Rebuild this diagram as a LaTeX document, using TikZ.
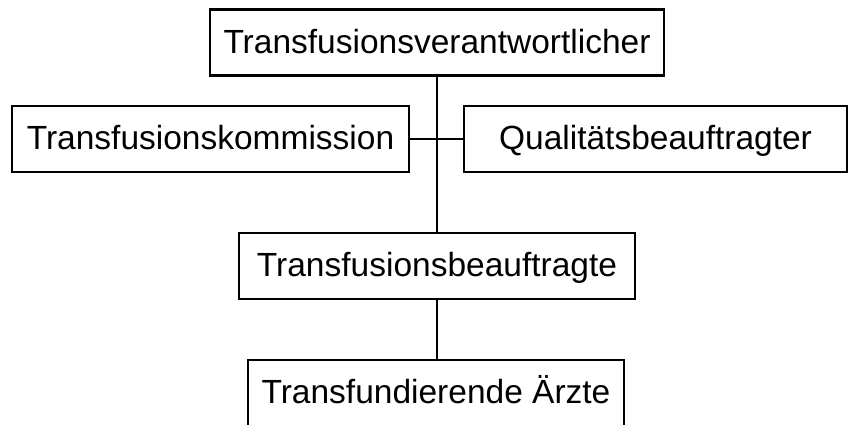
\documentclass[tikz,border=0pt]{standalone}
\usepackage{fontspec}
\setmainfont{Liberation Sans}
\tikzset{
  box/.style={draw, line width=2.2pt, inner sep=0pt, minimum height=66pt,
    text height=25pt, text depth=4pt,
    font=\fontsize{33.5pt}{40pt}\selectfont},
  link/.style={line width=2.2pt}
}
\begin{document}
\begin{tikzpicture}[x=1pt,y=-1pt]
	\useasboundingbox (0,0) rectangle (849,424);
	\node[box, minimum width=454pt] (verantw) at (437,42.5) {Transfusionsverantwortlicher};
	\node[box, minimum width=397pt] (kommission) at (210.5,139) {Transfusionskommission};
	\node[box, minimum width=383pt] (qualitaet) at (655.5,139) {Qualitätsbeauftragter};
	\node[box, minimum width=396pt] (beauftr) at (437,266) {Transfusionsbeauftragte};
	% runs off the bottom edge
	\node[box, minimum width=376pt, minimum height=72pt, text depth=11pt, anchor=north] (aerzte) at (436,359) {Transfundierende Ärzte};
	\draw[link] (verantw) -- (beauftr);
	\draw[link] (kommission) -- (qualitaet);
	\draw[link] (beauftr) -- (beauftr |- aerzte.north);
\end{tikzpicture}
\end{document}
